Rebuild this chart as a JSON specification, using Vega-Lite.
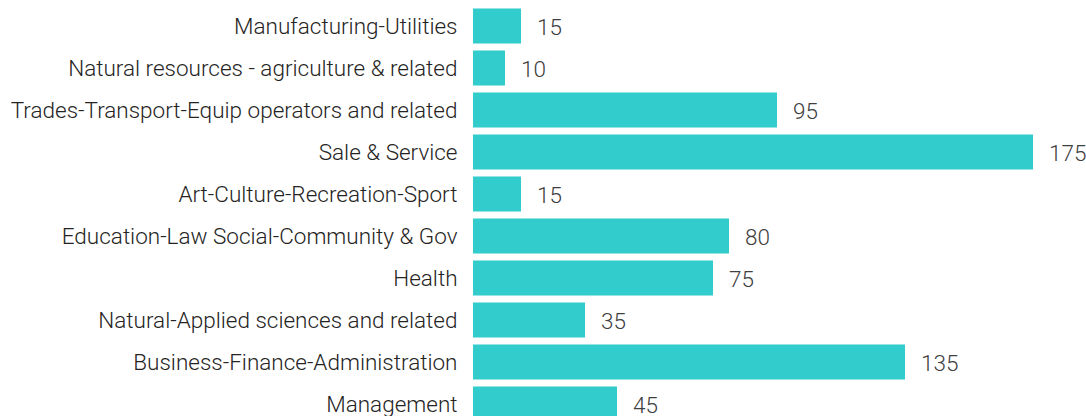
{
  "$schema": "https://vega.github.io/schema/vega-lite/v6.json",
  "width": 608,
  "height": 420,
  "autosize": {"type": "none"},
  "padding": {"left": 473, "top": 5, "right": 5, "bottom": 0},
  "background": "white",
  "config": {"view": {"stroke": null}, "font": "Roboto"},
  "data": {
    "values": [
      {"category": "Manufacturing-Utilities", "value": 15},
      {"category": "Natural resources - agriculture & related", "value": 10},
      {"category": "Trades-Transport-Equip operators and related", "value": 95},
      {"category": "Sale & Service", "value": 175},
      {"category": "Art-Culture-Recreation-Sport", "value": 15},
      {"category": "Education-Law Social-Community & Gov", "value": 80},
      {"category": "Health", "value": 75},
      {"category": "Natural-Applied sciences and related", "value": 35},
      {"category": "Business-Finance-Administration", "value": 135},
      {"category": "Management", "value": 45}
    ]
  },
  "encoding": {
    "y": {
      "field": "category",
      "type": "nominal",
      "sort": null,
      "scale": {"paddingInner": 0.1667, "paddingOuter": 0.0833},
      "axis": {
        "title": null,
        "domain": false,
        "ticks": false,
        "labelFontSize": 22.5,
        "labelFontWeight": 300,
        "labelPadding": 16,
        "labelColor": "#252423",
        "labelLimit": 0,
        "labelOffset": 1
      }
    },
    "x": {
      "field": "value",
      "type": "quantitative",
      "scale": {"domain": [0, 190]},
      "axis": null
    }
  },
  "layer": [
    {"mark": {"type": "bar", "color": "#33CCCC"}},
    {
      "mark": {"type": "text", "align": "left", "dx": 16, "dy": 2, "fontSize": 22.5, "fontWeight": 300, "color": "#404040"},
      "encoding": {"text": {"field": "value", "type": "quantitative"}}
    }
  ]
}
